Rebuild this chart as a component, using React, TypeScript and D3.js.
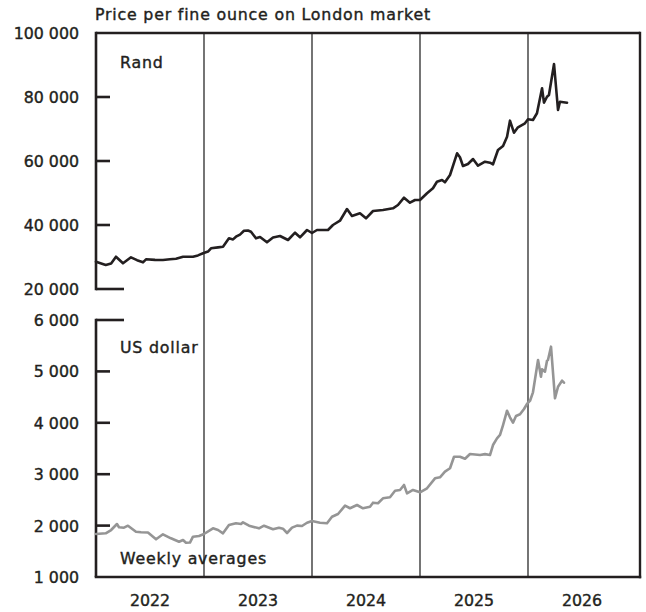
import React from "react";
import * as d3 from "d3";

// Decimal-year dates and weekly-average values
const randDates = [
  2022.0, 2022.09, 2022.14, 2022.185, 2022.25, 2022.324, 2022.38, 2022.435, 2022.463, 2022.546,
  2022.62, 2022.685, 2022.741, 2022.806, 2022.898, 2022.944, 2022.991, 2023.037, 2023.065, 2023.13,
  2023.176, 2023.231, 2023.269, 2023.296, 2023.333, 2023.37, 2023.407, 2023.435, 2023.481, 2023.519,
  2023.583, 2023.639, 2023.704, 2023.778, 2023.843, 2023.889, 2023.954, 2024.0, 2024.046, 2024.148,
  2024.194, 2024.259, 2024.324, 2024.37, 2024.444, 2024.5, 2024.565, 2024.657, 2024.75, 2024.796,
  2024.852, 2024.907, 2024.954, 2025.0, 2025.065, 2025.12, 2025.157, 2025.204, 2025.231, 2025.278,
  2025.343, 2025.37, 2025.398, 2025.444, 2025.491, 2025.537, 2025.602, 2025.648, 2025.676, 2025.722,
  2025.769, 2025.806, 2025.833, 2025.87, 2025.907, 2025.972, 2026.0, 2026.046, 2026.083, 2026.13,
  2026.148, 2026.176, 2026.194, 2026.241, 2026.278, 2026.296, 2026.361,
];
const randValues = [
  28530, 27500, 28000, 30100, 28030, 29900, 29000, 28340, 29280, 29100,
  29060, 29300, 29470, 30100, 30100, 30500, 31150, 31700, 32720, 33000,
  33220, 35840, 35500, 36340, 37000, 38220, 38300, 37900, 35840, 36250,
  34590, 36090, 36560, 35310, 37590, 36160, 38440, 37500, 38440, 38440,
  40000, 41340, 45000, 42810, 43660, 42090, 44380, 44690, 45220, 46250,
  48530, 46970, 47810, 47810, 49910, 51470, 53530, 54060, 53340, 55630,
  62410, 61160, 58440, 59060, 60620, 58530, 59780, 59470, 58970, 63440,
  64690, 67600, 72600, 68840, 70530, 71780, 73030, 72810, 74910, 82720,
  78220, 80090, 80630, 90310, 75940, 78530, 78220,
];

const usdDates = [
  2022.0, 2022.09, 2022.14, 2022.194, 2022.213, 2022.259, 2022.296, 2022.37, 2022.417, 2022.481,
  2022.556, 2022.62, 2022.694, 2022.769, 2022.806, 2022.833, 2022.87, 2022.898, 2022.954, 2023.0,
  2023.083, 2023.13, 2023.176, 2023.231, 2023.296, 2023.343, 2023.361, 2023.417, 2023.509, 2023.556,
  2023.639, 2023.694, 2023.731, 2023.769, 2023.815, 2023.861, 2023.907, 2023.954, 2024.0, 2024.074,
  2024.139, 2024.185, 2024.241, 2024.306, 2024.352, 2024.417, 2024.472, 2024.537, 2024.565, 2024.611,
  2024.657, 2024.722, 2024.769, 2024.815, 2024.852, 2024.88, 2024.935, 2025.0, 2025.065, 2025.139,
  2025.185, 2025.231, 2025.278, 2025.315, 2025.37, 2025.417, 2025.463, 2025.556, 2025.602, 2025.648,
  2025.676, 2025.713, 2025.741, 2025.769, 2025.806, 2025.833, 2025.861, 2025.889, 2025.926, 2025.963,
  2025.991, 2026.019, 2026.046, 2026.093, 2026.12, 2026.13, 2026.157, 2026.176, 2026.185, 2026.213,
  2026.25, 2026.278, 2026.315, 2026.333,
];
const usdValues = [
  1837, 1850, 1914, 2031, 1967, 1959, 1998, 1881, 1870, 1865,
  1733, 1831, 1753, 1687, 1720, 1667, 1670, 1784, 1798, 1837,
  1947, 1914, 1850, 2012, 2045, 2031, 2064, 1998, 1947, 1998,
  1928, 1959, 1940, 1856, 1960, 2000, 1992, 2056, 2090, 2056,
  2045, 2173, 2226, 2387, 2337, 2401, 2337, 2368, 2446, 2434,
  2531, 2551, 2679, 2693, 2790, 2628, 2693, 2648, 2726, 2920,
  2940, 3049, 3115, 3340, 3340, 3300, 3393, 3373, 3390, 3373,
  3568, 3698, 3763, 3957, 4235, 4107, 4002, 4132, 4165, 4268,
  4366, 4430, 4593, 5222, 4897, 5041, 4994, 5208, 5222, 5481,
  4477, 4702, 4819, 4780,
];

const yearBoundaries = [2023, 2024, 2025, 2026];
const yearLabels = [2022, 2023, 2024, 2025, 2026];
const randTicks = [20000, 40000, 60000, 80000, 100000];
const usdTicks = [1000, 2000, 3000, 4000, 5000, 6000];

const title = "Price per fine ounce on London market";
const fmt = (v: number) => d3.format(",")(v).replace(/,/g, " ");

const W = 646;
const H = 612;
const left = 96;
const right = 640;
const INK = "#231f20";
const FONT = "'DejaVu Sans', Verdana, sans-serif";

export default function App() {
  const x = d3.scaleLinear().domain([2022, 2027]).range([left, 636]);
  const yR = d3.scaleLinear().domain([20000, 100000]).range([289, 33]);
  const yU = d3.scaleLinear().domain([1000, 6000]).range([577, 320]);

  const randLine = d3
    .line<number>()
    .x((_, i) => x(randDates[i]))
    .y((d) => yR(d));
  const usdLine = d3
    .line<number>()
    .x((_, i) => x(usdDates[i]))
    .y((d) => yU(d));

  const top = yR(100000);
  const bottom = yU(1000);
  const textStyle = {
    fontFamily: FONT,
    fontSize: 15.8,
    fill: INK,
    stroke: INK,
    strokeWidth: 0.4,
  } as React.CSSProperties;
  const wordStyle = { ...textStyle, letterSpacing: 0.8 } as React.CSSProperties;

  return (
    <svg
      width={W}
      height={H}
      style={{ position: "absolute", left: 0, top: 0, background: "#fff" }}
    >
      <rect x={0} y={0} width={W} height={H} fill="#fff" />
      {/* year separators */}
      {yearBoundaries.map((yr) => (
        <line
          key={yr}
          x1={x(yr)}
          x2={x(yr)}
          y1={top}
          y2={bottom}
          stroke="#2a2a2a"
          strokeWidth={1.3}
        />
      ))}
      {/* frame */}
      <line x1={left} x2={right} y1={top} y2={top} stroke={INK} strokeWidth={2.4} />
      <line x1={right} x2={right} y1={top - 1.2} y2={bottom + 1.2} stroke={INK} strokeWidth={2.4} />
      <line x1={left - 1.3} x2={right + 1.2} y1={bottom} y2={bottom} stroke={INK} strokeWidth={2.6} />
      <line x1={left} x2={left} y1={top - 1.2} y2={yR(20000) + 1.3} stroke={INK} strokeWidth={2.6} />
      <line x1={left} x2={left} y1={yU(6000) - 1.3} y2={bottom} stroke={INK} strokeWidth={2.6} />

      {/* ticks */}
      {randTicks
        .filter((t) => t < 100000)
        .map((t) => (
          <line
            key={"rt" + t}
            x1={left}
            x2={t === 20000 ? 124 : 110}
            y1={yR(t)}
            y2={yR(t)}
            stroke={INK}
            strokeWidth={2.6}
          />
        ))}
      {usdTicks
        .filter((t) => t > 1000)
        .map((t) => (
          <line
            key={"ut" + t}
            x1={left}
            x2={t === 6000 ? 124 : 110}
            y1={yU(t)}
            y2={yU(t)}
            stroke={INK}
            strokeWidth={2.6}
          />
        ))}

      {/* tick labels */}
      {randTicks.map((t) => (
        <text key={"rl" + t} x={79} y={yR(t) + 6} textAnchor="end" style={textStyle}>
          {fmt(t)}
        </text>
      ))}
      {usdTicks.map((t) => (
        <text key={"ul" + t} x={79} y={yU(t) + 6} textAnchor="end" style={textStyle}>
          {fmt(t)}
        </text>
      ))}
      {yearLabels.map((yr) => (
        <text key={"y" + yr} x={x(yr + 0.5)} y={606} textAnchor="middle" style={textStyle}>
          {yr}
        </text>
      ))}

      {/* series */}
      <path
        d={usdLine(usdValues) || ""}
        fill="none"
        stroke="#959595"
        strokeWidth={2.6}
        strokeLinejoin="round"
        strokeLinecap="round"
      />
      <path
        d={randLine(randValues) || ""}
        fill="none"
        stroke={INK}
        strokeWidth={2.6}
        strokeLinejoin="round"
        strokeLinecap="round"
      />

      {/* labels */}
      <text x={95} y={20} style={wordStyle}>
        {title}
      </text>
      <text x={120} y={68} style={wordStyle}>
        Rand
      </text>
      <text x={120} y={353} style={wordStyle}>
        US dollar
      </text>
      <text x={120} y={564} style={wordStyle}>
        Weekly averages
      </text>
    </svg>
  );
}
